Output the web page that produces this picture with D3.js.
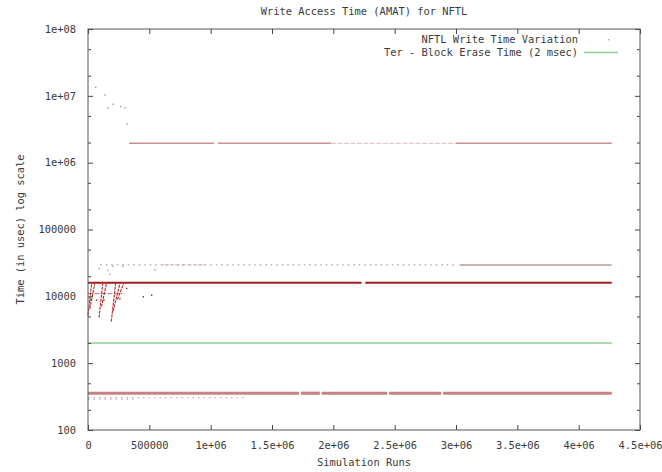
<!DOCTYPE html>
<html>
<head>
<meta charset="utf-8">
<script src="https://cdn.jsdelivr.net/npm/d3@7"></script>
<style>
  body { margin: 0; background: #fff; }
  svg text { font-family: "DejaVu Sans Mono", monospace; font-size: 10.4px; fill: #3a3a3a; }
</style>
</head>
<body>
<div id="chart"></div>
<script>
// x tick values and their gnuplot style labels
const xTicks = [0, 500000, 1000000, 1500000, 2000000, 2500000, 3000000, 3500000, 4000000, 4500000];
const xTickLabels = ["0", "500000", "1e+06", "1.5e+06", "2e+06", "2.5e+06", "3e+06", "3.5e+06", "4e+06", "4.5e+06"];
const yTicks = [100, 1000, 10000, 100000, 1000000, 10000000, 100000000];
const yTickLabels = ["100", "1000", "10000", "100000", "1e+06", "1e+07", "1e+08"];

// dense runs of write times: [run start, run end, usec]
const denseRuns = [
    [335000, 1030000, 1950000], [1060000, 1980000, 1950000], [3000000, 4270000, 1950000],
    [0, 2230000, 16000], [2260000, 4270000, 16000],
    [3030000, 4270000, 29500],
    [0, 1720000, 355], [1735000, 1890000, 355], [1905000, 2440000, 355], [2455000, 2880000, 355], [2895000, 4270000, 355]
];
// thinner, paler runs: [run start, run end, usec]
const faintRuns = [
    [1980000, 3000000, 1950000],
    [0, 280000, 11000],
    [600000, 950000, 29500]
];
// scattered (sparse) runs: [run start, run end, usec]
const sparseRuns = [
    [100000, 3000000, 29500],
    [0, 1280000, 305], [0, 400000, 290]
];
// sawtooth streaks at the start: [x0, usec0, x1, usec1]
const streaks = [
    [0, 5200, 30000, 15500], [15000, 6500, 55000, 15500],
    [90000, 4800, 120000, 15500], [110000, 7000, 150000, 15500],
    [190000, 4200, 225000, 15500], [205000, 6000, 260000, 15500],
    [240000, 9000, 290000, 15500]
];
// single outlying points: [run, usec]
const outliers = [
    [62800, 13400000], [138600, 10300000], [203800, 7500000], [163000, 6600000],
    [266600, 6900000], [301600, 6600000], [318000, 3800000],
    [163000, 24700], [179000, 21500], [204000, 28300], [285000, 28300], [90000, 26000],
    [315000, 13100], [451000, 9850], [519000, 10400], [546000, 25000],
    [20000, 8800], [70000, 8800], [130000, 8800], [260000, 9200]
];
// block erase time line
const eraseTime = 2000;
const eraseRange = [0, 4270000];

const W = 662, H = 472;
const margin = {top: 29, right: 22, bottom: 42, left: 88};
const width = W - margin.left - margin.right,
    height = H - margin.top - margin.bottom;

const svg = d3.select("#chart").append("svg")
    .attr("width", W)
    .attr("height", H);

const g = svg.append("g")
    .attr("transform", "translate(" + margin.left + "," + margin.top + ")");

const x = d3.scaleLinear().domain([0, 4500000]).range([0, width]);
const y = d3.scaleLog().domain([100, 100000000]).range([height, 0]);

const red = "#a41c1c";

function runColor(v) {
    if (v < 1000) return "#c68383";
    if (v > 100000) return "#c99090";
    if (v > 20000) return "#b79999";
    return red;
}

// data marks
g.selectAll("line.dense")
    .data(denseRuns)
    .enter().append("line")
    .attr("class", "dense")
    .attr("x1", d => x(d[0]))
    .attr("x2", d => x(d[1]))
    .attr("y1", d => y(d[2]))
    .attr("y2", d => y(d[2]))
    .attr("stroke", d => runColor(d[2]))
    .attr("stroke-width", d => d[2] < 1000 ? 3.2 : (d[2] > 20000 ? 1.4 : 2.1));

g.selectAll("line.faint")
    .data(faintRuns)
    .enter().append("line")
    .attr("class", "faint")
    .attr("x1", d => x(d[0]))
    .attr("x2", d => x(d[1]))
    .attr("y1", d => y(d[2]))
    .attr("y2", d => y(d[2]))
    .attr("stroke", d => runColor(d[2]))
    .attr("stroke-opacity", 0.6)
    .attr("stroke-width", 1)
    .attr("stroke-dasharray", "5,1.5");

g.selectAll("line.sparse")
    .data(sparseRuns)
    .enter().append("line")
    .attr("class", "sparse")
    .attr("x1", d => x(d[0]))
    .attr("x2", d => x(d[1]))
    .attr("y1", d => y(d[2]))
    .attr("y2", d => y(d[2]))
    .attr("stroke", d => d[2] < 1000 ? "#d8a8a8" : "#b09a9a")
    .attr("stroke-width", 1.2)
    .attr("stroke-dasharray", "1.5,4");

g.selectAll("line.streak")
    .data(streaks)
    .enter().append("line")
    .attr("class", "streak")
    .attr("x1", d => x(d[0]))
    .attr("y1", d => y(d[1]))
    .attr("x2", d => x(d[2]))
    .attr("y2", d => y(d[3]))
    .attr("stroke", "#b02424")
    .attr("stroke-width", 1.1)
    .attr("stroke-dasharray", "3,1");

g.selectAll("rect.pt")
    .data(outliers)
    .enter().append("rect")
    .attr("class", "pt")
    .attr("x", d => x(d[0]) - 0.7)
    .attr("y", d => y(d[1]) - 0.7)
    .attr("width", 1.4)
    .attr("height", 1.4)
    .attr("fill", d => d[1] < 15000 ? red : "#9a9a9a");

g.append("line")
    .attr("x1", x(eraseRange[0]))
    .attr("x2", x(eraseRange[1]))
    .attr("y1", y(eraseTime))
    .attr("y2", y(eraseTime))
    .attr("stroke", "#8fcf8f")
    .attr("stroke-width", 1.5);

// axes, gnuplot style: ticks inward on all four sides
const minorY = [];
yTicks.slice(0, -1).forEach(v => { minorY.push(v * 2, v * 5); });

function styleAxis(sel) {
    sel.select(".domain").remove();
    sel.selectAll(".tick line").attr("stroke", "#444");
}

g.append("g")
    .attr("transform", "translate(0," + height + ")")
    .call(d3.axisBottom(x).tickValues(xTicks).tickSizeInner(-5).tickPadding(12)
        .tickFormat((d, i) => xTickLabels[i]))
    .call(styleAxis);

g.append("g")
    .call(d3.axisTop(x).tickValues(xTicks).tickSizeInner(-5).tickFormat(""))
    .call(styleAxis);

g.append("g")
    .call(d3.axisLeft(y).tickValues(yTicks).tickSizeInner(-5).tickPadding(12)
        .tickFormat((d, i) => yTickLabels[i]))
    .call(styleAxis);

g.append("g")
    .attr("transform", "translate(" + width + ",0)")
    .call(d3.axisRight(y).tickValues(yTicks).tickSizeInner(-5).tickFormat(""))
    .call(styleAxis);

g.append("g")
    .call(d3.axisLeft(y).tickValues(minorY).tickSizeInner(-3).tickFormat(""))
    .call(styleAxis);
g.append("g")
    .attr("transform", "translate(" + width + ",0)")
    .call(d3.axisRight(y).tickValues(minorY).tickSizeInner(-3).tickFormat(""))
    .call(styleAxis);

g.append("rect")
    .attr("width", width)
    .attr("height", height)
    .attr("fill", "none")
    .attr("stroke", "#555")
    .attr("stroke-width", 1);

// titles
svg.append("text")
    .attr("x", margin.left + width / 2)
    .attr("y", 15)
    .attr("text-anchor", "middle")
    .text("Write Access Time (AMAT) for NFTL");

svg.append("text")
    .attr("x", margin.left + width / 2)
    .attr("y", 466)
    .attr("text-anchor", "middle")
    .text("Simulation Runs");

svg.append("text")
    .attr("transform", "translate(24," + (margin.top + height / 2) + ") rotate(-90)")
    .attr("text-anchor", "middle")
    .text("Time (in usec) log scale");

// legend
const legend = g.append("g").attr("transform", "translate(" + (width - 62) + ",0)");
legend.append("text").attr("x", 0).attr("y", 14).attr("text-anchor", "end")
    .text("NFTL Write Time Variation");
legend.append("rect").attr("x", 30).attr("y", 10).attr("width", 1.4).attr("height", 1.4).attr("fill", "#aaa");
legend.append("text").attr("x", 0).attr("y", 27).attr("text-anchor", "end")
    .text("Ter - Block Erase Time (2 msec)");
legend.append("line").attr("x1", 6).attr("x2", 40).attr("y1", 23.5).attr("y2", 23.5)
    .attr("stroke", "#8fcf8f").attr("stroke-width", 1.5);
</script>
</body>
</html>
